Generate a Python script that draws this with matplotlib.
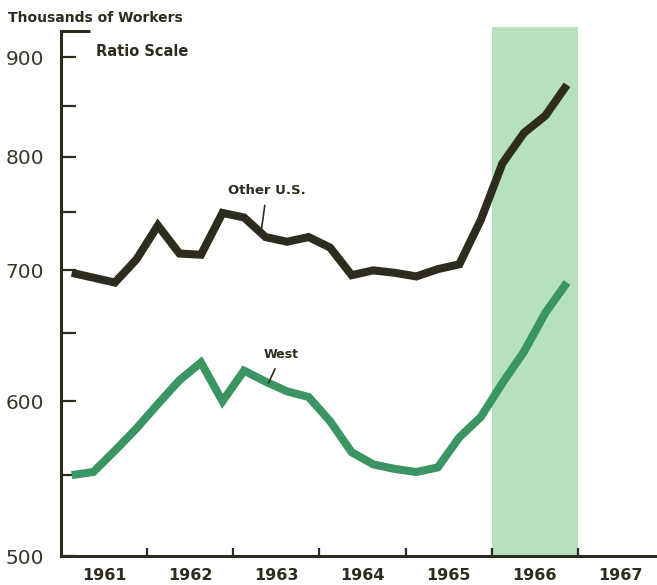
import matplotlib
matplotlib.use("Agg")
import matplotlib.pyplot as plt
from matplotlib.ticker import FixedLocator, NullFormatter
import numpy as np

# quarterly data, 1961 Q1 .. 1966 Q4 (thousands of workers)
quarters = np.arange(1961.125, 1967.0, 0.25)
other_us = [698, 694, 690, 709, 738, 714, 713, 749, 745, 728, 724, 728,
            719, 696, 700, 698, 695, 701, 705, 743, 794, 823, 840, 871]
west = [550, 552, 566, 581, 598, 615, 628, 600, 622, 614, 607, 603,
        586, 565, 557, 554, 552, 555, 575, 589, 613, 636, 666, 690]
years = [1961, 1962, 1963, 1964, 1965, 1966, 1967]
shade_start, shade_end = 1966, 1967

dark = "#2e2c1c"
green = "#3a9563"

fig = plt.figure(figsize=(6.57, 5.85), dpi=100)
ax = fig.add_axes([61 / 657, 1 - 556 / 585, 1 - 61 / 657, (556 - 31) / 585])

ax.axvspan(shade_start, shade_end, ymin=0, ymax=1.008, color="#a8dcb4",
           alpha=0.85, lw=0, clip_on=False, zorder=0)

ax.plot(quarters, other_us, color=dark, lw=5.8, solid_joinstyle="miter",
        solid_capstyle="butt", zorder=3)
ax.plot(quarters, west, color=green, lw=5.8, solid_joinstyle="miter",
        solid_capstyle="butt", zorder=3)

ax.set_yscale("log")
ax.set_ylim(500, 928)
ax.set_xlim(1961, 1967.92)

# y ticks
ax.yaxis.set_major_locator(FixedLocator([500, 600, 700, 800, 900]))
ax.yaxis.set_minor_locator(FixedLocator([550, 650, 750, 850]))
ax.yaxis.set_major_formatter(matplotlib.ticker.FixedFormatter(["500", "600", "700", "800", "900"]))
ax.yaxis.set_minor_formatter(NullFormatter())
ax.tick_params(axis="y", which="both", direction="in", length=11, width=1.6,
               color=dark, pad=12, labelsize=14.5, labelcolor="#3a3828")

# x ticks: year boundaries as ticks, year names centred between them
ax.xaxis.set_major_locator(FixedLocator(years[1:]))
ax.xaxis.set_major_formatter(NullFormatter())
ax.xaxis.set_minor_locator(FixedLocator([y + 0.5 for y in years]))
ax.xaxis.set_minor_formatter(matplotlib.ticker.FixedFormatter([str(y) for y in years]))
ax.tick_params(axis="x", which="major", direction="in", length=6, width=1.6, color=dark)
ax.tick_params(axis="x", which="minor", length=0, pad=9, labelsize=11.5, labelcolor=dark)
for lab in ax.get_xticklabels(minor=True):
    lab.set_fontweight("bold")
    lab.set_family(["Liberation Sans Narrow", "DejaVu Sans"])

for s in ["top", "right"]:
    ax.spines[s].set_visible(False)
for s in ["left", "bottom"]:
    ax.spines[s].set_color(dark)
    ax.spines[s].set_linewidth(2.2)

# small stub at the top of the y axis
ax.plot([0, 29 / 596], [1, 1], transform=ax.transAxes, color=dark, lw=2.2,
        clip_on=False, solid_capstyle="butt")

fig.text(8 / 657, 1 - 18 / 585, "Thousands of Workers", fontsize=10,
         fontweight="bold", color=dark, va="center", ha="left")
fig.text(96 / 657, 1 - 52 / 585, "Ratio Scale", fontsize=10.5,
         fontweight="bold", color=dark, va="center", ha="left")

ax.annotate("Other U.S.", xy=(1963.33, 736), xytext=(1963.39, 769),
            ha="center", va="center", fontsize=9.5, fontweight="bold", color=dark,
            arrowprops=dict(arrowstyle="-", color=dark, lw=1.2, shrinkA=4, shrinkB=0))
ax.annotate("West", xy=(1963.41, 613), xytext=(1963.56, 634),
            ha="center", va="center", fontsize=9, fontweight="bold", color=dark,
            arrowprops=dict(arrowstyle="-", color=dark, lw=1.2, shrinkA=4, shrinkB=0))

fig.savefig("out.png", dpi=100)
